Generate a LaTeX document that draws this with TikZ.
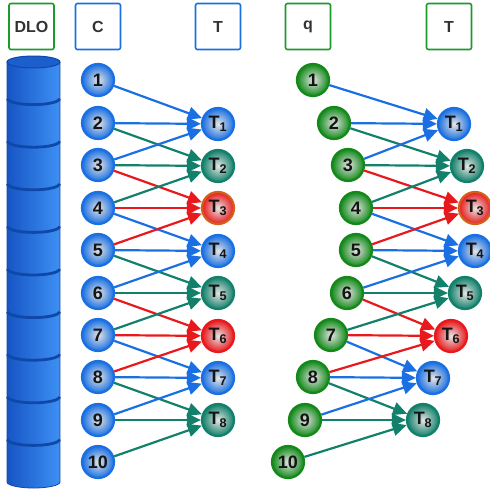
\documentclass[tikz,border=0pt]{standalone}
\usepackage{fontspec}
\setmainfont{Liberation Sans}
\usetikzlibrary{arrows.meta}

\definecolor{eblue}{HTML}{1A70E2}
\definecolor{eteal}{HTML}{12806A}
\definecolor{ered}{HTML}{E8191C}
\definecolor{eorange}{HTML}{D2601A}
\definecolor{qgreen}{HTML}{13891A}
\definecolor{boxgreen}{HTML}{1C9A2A}
\definecolor{cylL}{HTML}{1655C4}
\definecolor{cylR}{HTML}{3D90F4}
\definecolor{cylD}{HTML}{0F48A8}

\tikzset{
  ball/.style={circle, minimum size=32pt, inner sep=0pt, line width=2.2pt,
    draw=#1, inner color=black!10, outer color=#1,
    font=\bfseries\fontsize{18}{18}\selectfont, text=black!92},
  hbox/.style={draw=#1, line width=1.6pt, rounded corners=2pt,
    minimum width=45pt, minimum height=46pt, fill=white, inner sep=0pt,
    font=\bfseries\fontsize{16}{16}\selectfont, text=black!80},
  link/.style={line width=2.2pt, -{Triangle[length=14pt,width=13pt]}},
  ecol0/.style={link, draw=eblue, fill=eblue},
  ecol1/.style={link, draw=eteal, fill=eteal},
  ecol2/.style={link, draw=ered, fill=ered},
}

\newcommand{\tlab}[1]{T\textsubscript{#1}}

\begin{document}
\begin{tikzpicture}[x=1pt,y=-1pt]
\useasboundingbox (0,0) rectangle (490,496);

% header boxes
\node[hbox=boxgreen] (hdlo) at (31.5,26.5) {DLO};
\node[hbox=eblue]    (hc)   at (98,26.5)   {C};
\node[hbox=eblue]    (ht)   at (218,26.5)  {T};
\node[hbox=boxgreen] (hq)   at (308,26.5)  {q};
\node[hbox=boxgreen] (htq)  at (449,26.5)  {T};

% stacked storage cylinder
\shade[left color=cylL, right color=cylR]
  (7,62) -- (7,482) arc[start angle=180, end angle=0, x radius=26.5, y radius=6]
  -- (60,62) arc[start angle=0, end angle=-180, x radius=26.5, y radius=6] -- cycle;
\draw[cylD, line width=0.8pt]
  (7,62) -- (7,482) arc[start angle=180, end angle=0, x radius=26.5, y radius=6]
  -- (60,62);
\foreach \k in {1,...,9}{
  \draw[cylD, line width=2.8pt]
    (7.5,56+42.6*\k) arc[start angle=180, end angle=0, x radius=26, y radius=6];
}
\filldraw[fill=cylL!85!cylR, draw=cylD, line width=1pt]
  (33.5,62) ellipse[x radius=26.5, y radius=6];

% left graph nodes
\foreach \i/\y in {1/80,2/123,3/165,4/208,5/250,6/293,7/335,8/377,9/420,10/462}{
  \node[ball=eblue] (c\i) at (98,\y) {\i};
}
\node[ball=eblue]  (t1) at (218,124) {\tlab{1}};
\node[ball=eteal]  (t2) at (218,166) {\tlab{2}};
\node[ball=ered, draw=eorange] (t3) at (218,208) {\tlab{3}};
\node[ball=eblue]  (t4) at (218,251) {\tlab{4}};
\node[ball=eteal]  (t5) at (218,293) {\tlab{5}};
\node[ball=ered]   (t6) at (218,336) {\tlab{6}};
\node[ball=eblue]  (t7) at (218,378) {\tlab{7}};
\node[ball=eteal]  (t8) at (218,420) {\tlab{8}};

% right graph nodes
\foreach \i/\x/\y in {1/313/80,2/334/123,3/348/165,4/356/208,5/356/250,
                      6/347/293,7/331/335,8/313/377,9/305/420,10/288/462}{
  \node[ball=qgreen] (q\i) at (\x,\y) {\i};
}
\node[ball=eblue]  (u1) at (454,124) {\tlab{1}};
\node[ball=eteal]  (u2) at (467,166) {\tlab{2}};
\node[ball=ered, draw=eorange] (u3) at (475,208) {\tlab{3}};
\node[ball=eblue]  (u4) at (475,251) {\tlab{4}};
\node[ball=eteal]  (u5) at (465,293) {\tlab{5}};
\node[ball=ered]   (u6) at (451,336) {\tlab{6}};
\node[ball=eblue]  (u7) at (433,378) {\tlab{7}};
\node[ball=eteal]  (u8) at (423,420) {\tlab{8}};

% each source i points to targets i-2, i-1, i
\foreach \i in {1,...,10}{
  \foreach \d in {0,1,2}{
    \pgfmathtruncatemacro\j{\i-\d}
    \ifnum\j>0 \ifnum\j<9
      \pgfmathtruncatemacro\m{mod(\j-1,3)}
      \draw[ecol\m] (c\i) -- (t\j);
      \draw[ecol\m] (q\i) -- (u\j);
    \fi\fi
  }
}
\end{tikzpicture}
\end{document}
